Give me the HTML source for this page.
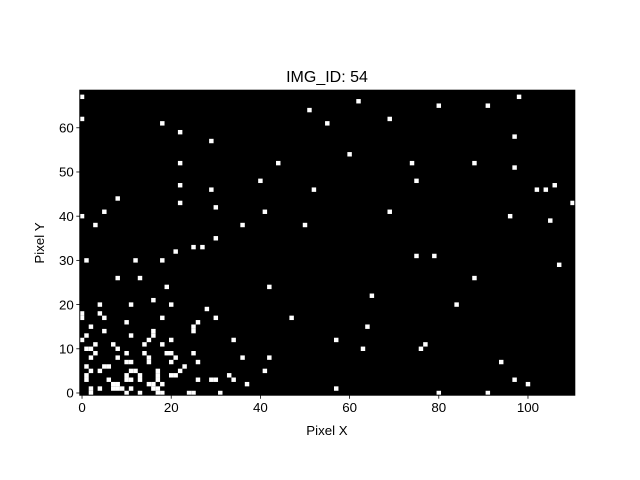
<!DOCTYPE html>
<html><head><meta charset="utf-8"><style>
body{margin:0;background:#fff;}
svg{display:block;font-family:"Liberation Sans","DejaVu Sans",sans-serif;}
</style></head><body>
<svg id="chart" width="640" height="480" viewBox="0 0 640 480" xmlns="http://www.w3.org/2000/svg">
<rect width="640" height="480" fill="#fff"/>
<text x="327" y="82" font-size="16" text-anchor="middle">IMG_ID: 54</text>
<g id="plot"></g>
<g id="axes"></g>
<text x="327" y="435" font-size="13.3" text-anchor="middle">Pixel X</text>
<text transform="translate(44,243) rotate(-90)" font-size="13.3" text-anchor="middle">Pixel Y</text>
</svg>
<script>
const pixelX = [16,4,11,20,28,0,0,4,5,18,30,10,26,2,25,25,5,16,16,1,11,15,20,0,1,2,3,7,14,18,8,3,10,14,19,20,25,2,8,15,15,21,10,11,20,26,1,5,6,23,2,4,11,12,17,22,1,10,13,17,20,21,33,1,6,10,11,13,17,26,29,30,7,8,15,16,18,2,4,7,8,9,11,16,17,2,10,13,17,18,24,25,31,
0,0,18,22,29,22,22,29,8,22,30,5,0,3,30,25,27,21,1,12,18,8,13,19,
62,51,69,55,60,44,40,52,41,69,36,50,42,65,47,64,34,57,63,36,42,41,34,37,57,
98,80,91,97,74,88,97,75,106,102,104,110,96,105,75,79,107,88,84,77,76,94,97,100,80,91];
const pixelY = [21,20,20,20,19,18,17,18,17,17,17,16,16,15,15,14,14,14,13,13,13,12,12,12,10,10,11,11,11,11,10,9,9,9,9,9,9,8,8,8,7,8,7,7,7,7,6,6,6,6,5,5,5,5,5,5,4,4,4,4,4,4,4,3,3,3,3,3,3,3,3,3,2,2,2,2,2,1,1,1,1,1,1,1,1,0,0,0,0,0,0,0,0,
67,62,61,59,57,52,47,46,44,43,42,41,40,38,35,33,33,32,30,30,30,26,26,24,
66,64,62,61,54,52,48,46,41,41,38,38,24,22,17,15,12,12,10,8,8,5,3,2,1,
67,65,65,58,52,52,51,48,47,46,46,43,40,39,31,31,29,26,20,11,10,7,3,2,0,0];
const xTicks = [0,20,40,60,80,100];
const yTicks = [0,10,20,30,40,50,60];
const NX = 111, NY = 69;
const L = 79.8, R = 574.8, T = 90.2, B = 395.2;
const cw = (R-L)/NX, ch = (B-T)/NY;
function sx(v){return L + (v+0.5)*cw;}
function sy(v){return B - (v+0.5)*ch;}
const NS = "http://www.w3.org/2000/svg";
const plot = document.getElementById('plot');
const axes = document.getElementById('axes');
function mk(tag, attrs, parent){const e=document.createElementNS(NS,tag);for(const k in attrs)e.setAttribute(k,attrs[k]);parent.appendChild(e);return e;}
const bg = mk('rect',{x:L,y:T,width:R-L,height:B-T,fill:'#000'},plot);


for(let i=0;i<pixelX.length;i++){
  const r = mk('rect',{x:(sx(pixelX[i])-cw/2).toFixed(2),y:(sy(pixelY[i])-ch/2).toFixed(2),width:cw.toFixed(2),height:ch.toFixed(2),fill:'#fff'},plot);
  
  
}
const frame = mk('rect',{x:L,y:T,width:R-L,height:B-T,fill:'none',stroke:'#000','stroke-width':1},axes);


xTicks.forEach(v=>{
  const x=sx(v);
  const t=mk('line',{x1:x,y1:B,x2:x,y2:B+3.5,stroke:'#000','stroke-width':0.8},axes);
  
  
  const l=mk('text',{x:x,y:B+17,'font-size':13.3,'text-anchor':'middle'},axes);
  l.textContent=v;
  
  
});
yTicks.forEach(v=>{
  const y=sy(v);
  const t=mk('line',{x1:L-3.5,y1:y,x2:L,y2:y,stroke:'#000','stroke-width':0.8},axes);
  
  
  const l=mk('text',{x:L-6,y:y+4.7,'font-size':13.3,'text-anchor':'end'},axes);
  l.textContent=v;
  
  
});
</script>
</body></html>
